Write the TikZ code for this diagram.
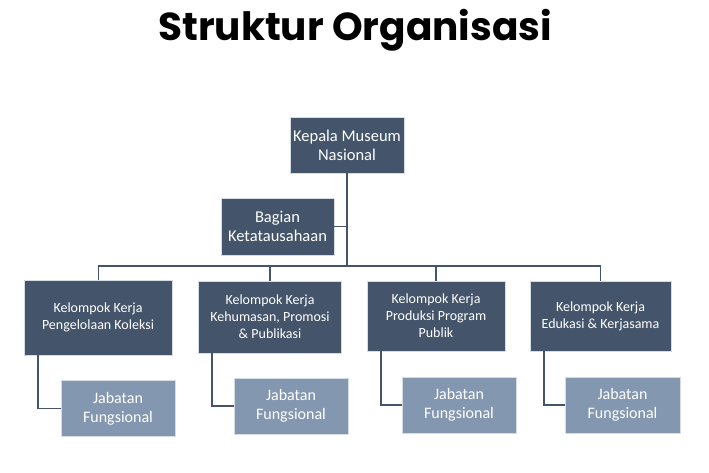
\documentclass[tikz,border=0pt]{standalone}
\usepackage{fontspec}
\setmainfont{Carlito}
\newfontfamily\judulfont{Poppins}
\definecolor{gelap}{HTML}{44546A}
\definecolor{terang}{HTML}{8497B0}
\definecolor{tepi}{HTML}{D6DCE4}
\tikzset{
  kotak/.style={draw=tepi, line width=0.8pt, fill=gelap, text=white, align=center, inner sep=2pt},
  pimpinan/.style={kotak, minimum width=114pt, minimum height=56pt, font=\fontsize{16.5}{19}\selectfont},
  pokja/.style={kotak, minimum width=142pt, minimum height=71pt, font=\fontsize{14}{17}\selectfont},
  jabatan/.style={kotak, fill=terang, minimum width=114pt, minimum height=56pt, font=\fontsize{16}{19}\selectfont},
  garis/.style={draw=gelap, line width=1.8pt}
}
\begin{document}
\begin{tikzpicture}[x=1pt, y=-1pt]
    \useasboundingbox (0,0) rectangle (709,472);
    % judul
    \node [font=\judulfont\bfseries\fontsize{39}{43}\selectfont, anchor=base] (judul) at (355,40) {Struktur Organisasi};

    % kotak
    \node [pimpinan] (kepala) at (347,145) {Kepala Museum\\Nasional};
    \node [pimpinan, minimum width=113pt, minimum height=57pt] (bagian) at (277.5,226.5) {Bagian\\Ketatausahaan};
    \node [pokja, minimum width=148pt, minimum height=75pt] (k1) at (98,317.5) {Kelompok Kerja\\Pengelolaan Koleksi};
    \node [pokja, minimum width=143pt, minimum height=72pt] (k2) at (270,317) {Kelompok Kerja\\Kehumasan, Promosi\\\& Publikasi};
    \node [pokja, minimum width=138pt, minimum height=70pt] (k3) at (436,316) {Kelompok Kerja\\Produksi Program\\Publik};
    \node [pokja, minimum width=141pt, minimum height=70pt] (k4) at (600.5,316) {Kelompok Kerja\\Edukasi \& Kerjasama};
    \node [jabatan] (j1) at (118,408.5) {Jabatan\\Fungsional};
    \node [jabatan] (j2) at (291,406) {Jabatan\\Fungsional};
    \node [jabatan] (j3) at (459,405) {Jabatan\\Fungsional};
    \node [jabatan, minimum width=115pt] (j4) at (622.5,405) {Jabatan\\Fungsional};

    % garis
    \coordinate (bus) at (0,266);
    \path [garis] (kepala.south) -- (kepala.south |- bus);
    \path [garis] (bagian.east) -- (bagian.east -| kepala.south);
    \path [garis] ([xshift=0.5pt]k1.north) |- (k4.north |- bus) -- (k4.north);
    \foreach \i in {2,3}
        \path [garis] (k\i.north) -- (k\i.north |- bus);
    \foreach \i in {1,...,4}
        \path [garis] ([xshift=14pt]k\i.south west) |- (j\i.west);
\end{tikzpicture}
\end{document}
